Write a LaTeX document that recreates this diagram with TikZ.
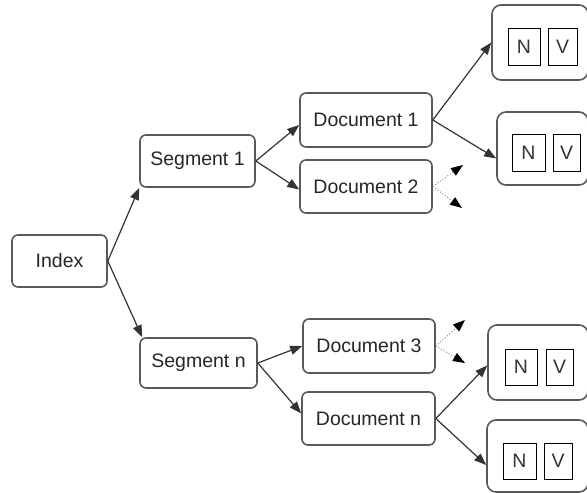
\documentclass[tikz,border=0pt]{standalone}
\usepackage{fontspec}
\setmainfont{Liberation Sans}
\usetikzlibrary{arrows.meta,calc}
\begin{document}
\begin{tikzpicture}[x=1pt,y=-1pt,
  box/.style={draw=black!65, line width=1.6pt, rounded corners=6pt, fill=white,
    inner sep=0pt, font=\fontsize{19.5}{21}\selectfont, text=black!85},
  nvbox/.style={draw=black!65, line width=1.6pt, rounded corners=9pt, fill=white, inner sep=0pt},
  letter/.style={draw=black, line width=1pt, inner sep=0pt, font=\fontsize{19.5}{21}\selectfont, text=black!80},
  arr/.style={draw=black!80, line width=1.2pt, -{Triangle[length=12pt,width=9pt]}},
  dotarr/.style={draw=black!45, line width=1pt, dotted, -{Triangle[length=12pt,width=9pt,color=black]}}]
\useasboundingbox (0,0) rectangle (587,493);

\node[box, minimum width=95pt, minimum height=52pt] (idx) at (59.5,261) {Index};
\node[box, minimum width=115pt, minimum height=52pt] (s1) at (197.5,161) {Segment 1};
\node[box, minimum width=117pt, minimum height=50pt] (sn) at (198.5,363) {Segment n};
\node[box, minimum width=132pt, minimum height=54pt] (d1) at (366,120) {Document 1};
\node[box, minimum width=132pt, minimum height=53pt] (d2) at (366,186.5) {Document 2};
\node[box, minimum width=132pt, minimum height=54pt] (d3) at (369,346) {Document 3};
\node[box, minimum width=133pt, minimum height=53pt] (dn) at (368.5,418.5) {Document n};

\node[nvbox, minimum width=96pt, minimum height=75pt] (nv1) at (540,42.5) {};
\node[nvbox, minimum width=91pt, minimum height=73pt] (nv2) at (542.5,148.5) {};
\node[nvbox, minimum width=100pt, minimum height=75pt] (nv3) at (538,362.5) {};
\node[nvbox, minimum width=101pt, minimum height=72pt] (nv4) at (537.5,456) {};

\node[letter, minimum width=32pt, minimum height=37pt] (n1) at (524,46.5) {N};
\node[letter, minimum width=29pt, minimum height=37pt] (v1) at (562.5,46.5) {V};
\node[letter, minimum width=33pt, minimum height=37pt] (n2) at (528.5,152.5) {N};
\node[letter, minimum width=27pt, minimum height=37pt] (v2) at (566.5,152.5) {V};
\node[letter, minimum width=32pt, minimum height=36pt] (n3) at (521,367) {N};
\node[letter, minimum width=27pt, minimum height=36pt] (v3) at (559.5,367) {V};
\node[letter, minimum width=33pt, minimum height=36pt] (n4) at (519.5,461) {N};
\node[letter, minimum width=28pt, minimum height=36pt] (v4) at (558,461) {V};

\coordinate (e2a) at (463,165);
\coordinate (e2b) at (462,208);
\coordinate (e3a) at (465,320);
\coordinate (e3b) at (465,363);

\draw[arr] (idx.east) -- (s1.south west);
\draw[arr] (idx.east) -- ($(sn.north west)+(3,0)$);
\draw[arr] (s1.east) -- ($(d1.west)+(0,5)$);
\draw[arr] (s1.east) -- ($(d2.west)+(0,3)$);
\draw[arr] (sn.east) -- (d3.west);
\draw[arr] (sn.east) -- ($(dn.west)+(0,-5)$);
\draw[arr] (d1.east) -- (nv1.west);
\draw[arr] (d1.east) -- ($(nv2.west)+(0,10)$);
\draw[arr] (dn.east) -- ($(nv3.west)+(0,3)$);
\draw[arr] (dn.east) -- ($(nv4.west)+(0,9)$);
\draw[dotarr] (d2.east) -- (e2a);
\draw[dotarr] (d2.east) -- (e2b);
\draw[dotarr] (d3.east) -- (e3a);
\draw[dotarr] (d3.east) -- (e3b);
\end{tikzpicture}
\end{document}
